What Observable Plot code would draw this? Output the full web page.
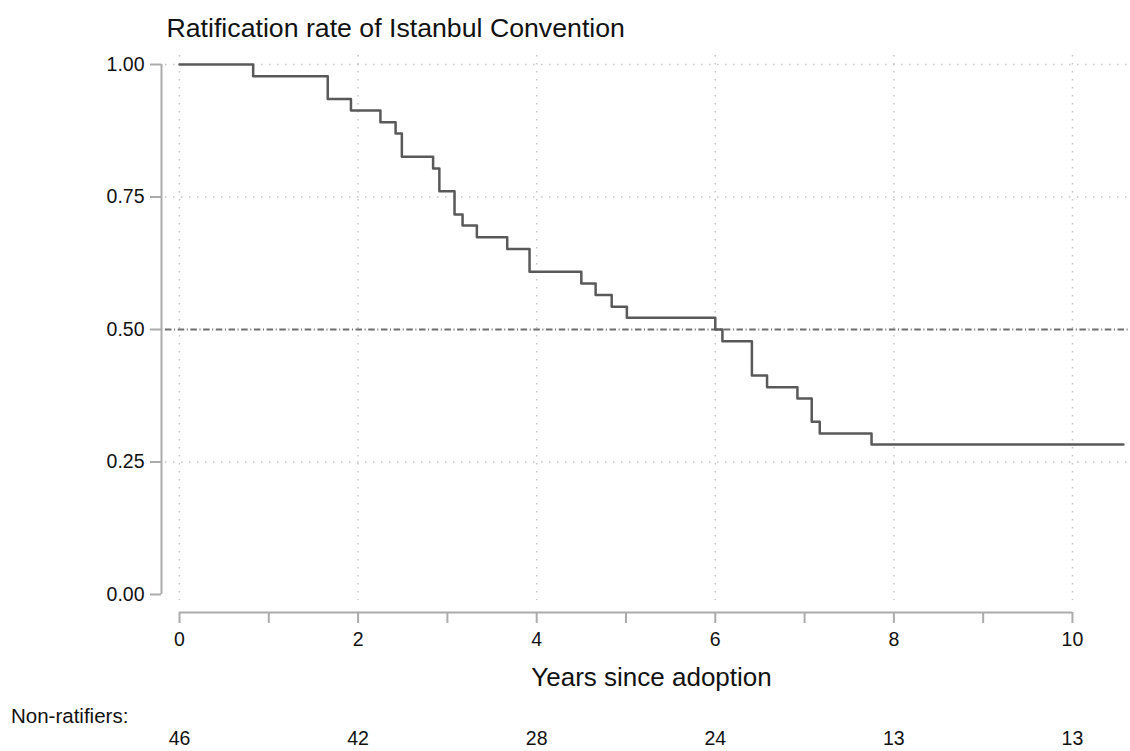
<!DOCTYPE html>
<html>
<head>
<meta charset="utf-8">
<script src="https://cdn.jsdelivr.net/npm/d3@7"></script>
<script src="https://cdn.jsdelivr.net/npm/@observablehq/plot@0.6"></script>
<style>
  html, body { margin: 0; padding: 0; background: #fff; }
  #chart svg { display: block; }
</style>
</head>
<body>
<div id="chart"></div>
<script>
// Kaplan–Meier style step data
const years = [0, 0.825, 1.66, 1.92, 2.25, 2.42, 2.49, 2.84, 2.91, 3.08, 3.17, 3.33, 3.67, 3.92, 4.50, 4.66, 4.84, 5.01, 6.00, 6.08, 6.41, 6.58, 6.92, 7.08, 7.17, 7.75, 10.57];
const rate  = [1.000, 0.978, 0.935, 0.913, 0.891, 0.870, 0.826, 0.804, 0.761, 0.717, 0.696, 0.674, 0.652, 0.609, 0.587, 0.565, 0.543, 0.522, 0.500, 0.478, 0.413, 0.391, 0.370, 0.326, 0.304, 0.283, 0.283];

// Axis ticks
const yTicks = [0, 0.25, 0.5, 0.75, 1];
const xTicks = [0, 1, 2, 3, 4, 5, 6, 7, 8, 9, 10];
const xLabelTicks = [0, 2, 4, 6, 8, 10];
const gridY = [0.25, 0.75, 1];
const refLine = [0.5];

// Number at risk table
const riskYears = [0, 2, 4, 6, 8, 10];
const nonRatifiers = [46, 42, 28, 24, 13, 13];

const titleText = "Ratification rate of Istanbul Convention";
const xLabelText = "Years since adoption";
const riskLabel = "Non-ratifiers:";

const steps = years.map((t, i) => ({t, s: rate[i]}));
const risk = riskYears.map((t, i) => ({t, n: nonRatifiers[i]}));

const font = "'Liberation Sans', Arial, Helvetica, sans-serif";
const gridStyle = {stroke: "#c4c4c4", strokeWidth: 1.5, strokeDasharray: "1.5,6.5"};
const axisColor = "#ababab";

const chart = Plot.plot({
  width: 1130,
  height: 751,
  marginTop: 55,
  marginBottom: 151,
  marginLeft: 165,
  marginRight: 0,
  style: {fontFamily: font, background: "#fff", color: "#111"},
  x: {domain: [-0.1568, 10.65]},
  y: {domain: [-0.01132, 1.01698]},
  marks: [
    Plot.ruleY(gridY, gridStyle),
    Plot.ruleX(xLabelTicks, gridStyle),
    Plot.ruleY(refLine, {stroke: "#6e6e6e", strokeWidth: 1.9, strokeDasharray: "6.5,2.6,1,2.6"}),
    Plot.line(steps, {x: "t", y: "s", curve: "step-after", stroke: "#595959", strokeWidth: 2.5}),
    // y axis
    Plot.ruleX([0], {y1: 0, y2: 1, dx: -18, stroke: axisColor, strokeWidth: 2}),
    Plot.axisY({ticks: yTicks, tickFormat: d3.format(".2f"), tickSize: 11, dx: -4, tickPadding: 6,
      fontSize: 19.5, stroke: axisColor, strokeWidth: 2, fill: "#111", label: null}),
    // x axis
    Plot.ruleY([0], {x1: 0, x2: 10, dy: 18, stroke: axisColor, strokeWidth: 2}),
    Plot.axisX({ticks: xTicks, tickFormat: d => (d % 2 === 0 ? String(d) : ""), tickSize: 11, dy: 12,
      tickPadding: 9, fontSize: 19.5, stroke: axisColor, strokeWidth: 2, fill: "#111", label: null}),
    Plot.text([xLabelText], {frameAnchor: "bottom", lineAnchor: "middle", dx: 3.5, dy: 76.8, fontSize: 26, fill: "#111"}),
    // title
    Plot.text([titleText], {frameAnchor: "top-left", lineAnchor: "middle", textAnchor: "start", dx: 1, dy: -27.3, fontSize: 26.7, fill: "#111"}),
    // at-risk table
    Plot.text([riskLabel], {frameAnchor: "bottom-left", lineAnchor: "middle", textAnchor: "start", dx: -154.5, dy: 115.8, fontSize: 20.5, fill: "#111"}),
    Plot.text(risk, {x: "t", text: "n", frameAnchor: "bottom", lineAnchor: "middle", dy: 138.5, fontSize: 19.5, fill: "#111"})
  ]
});
document.getElementById("chart").append(chart);
</script>
</body>
</html>
